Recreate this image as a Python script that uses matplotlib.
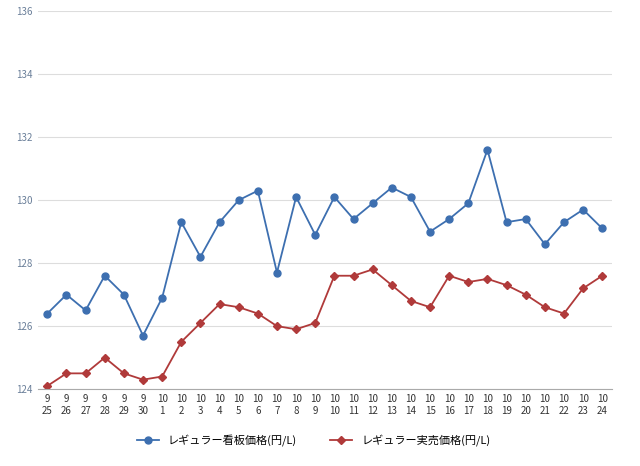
import matplotlib
matplotlib.use("Agg")
from matplotlib import pyplot as plt

months = [9]*6 + [10]*24
days = [25,26,27,28,29,30] + list(range(1,25))
kanban = [126.4,127.0,126.5,127.6,127.0,125.7,126.9,129.3,128.2,129.3,130.0,130.3,127.7,130.1,128.9,
          130.1,129.4,129.9,130.4,130.1,129.0,129.4,129.9,131.6,129.3,129.4,128.6,129.3,129.7,129.1]
jitsubai = [124.1,124.5,124.5,125.0,124.5,124.3,124.4,125.5,126.1,126.7,126.6,126.4,126.0,125.9,126.1,
            127.6,127.6,127.8,127.3,126.8,126.6,127.6,127.4,127.5,127.3,127.0,126.6,126.4,127.2,127.6]
labels = [f"{m}\n{d}" for m, d in zip(months, days)]

plt.rcParams["font.family"] = "Noto Sans CJK JP"
fig = plt.figure(figsize=(6.4, 4.66), dpi=100)
ax = fig.add_axes([0.059, 0.165, 0.897, 0.811])
x = list(range(len(labels)))
ax.plot(x, kanban, c="#3d6fb0", marker="o", ms=5, lw=1.3, label="レギュラー看板価格(円/L)")
ax.plot(x, jitsubai, c="#b03a3a", marker="D", ms=4, lw=1.3, label="レギュラー実売価格(円/L)")
ax.set_ylim(124, 136)
ax.set_yticks(range(124, 137, 2))
ax.set_xlim(-0.5, len(x) - 0.5)
ax.set_xticks(x)
ax.set_xticklabels(labels, fontsize=7, color="#333333", linespacing=1.3)
ax.tick_params(axis="y", labelsize=7, colors="#6a7f99", length=0)
ax.tick_params(axis="x", length=0)
ax.grid(axis="y", color="#dddddd", lw=0.8)
for s in ["top", "right", "left"]:
    ax.spines[s].set_visible(False)
ax.spines["bottom"].set_color("#aaaaaa")
ax.set_axisbelow(True)
fig.legend(loc="center", bbox_to_anchor=(0.49, 0.055), ncol=2, frameon=False, fontsize=8,
           columnspacing=3)
fig.savefig("out.png")
